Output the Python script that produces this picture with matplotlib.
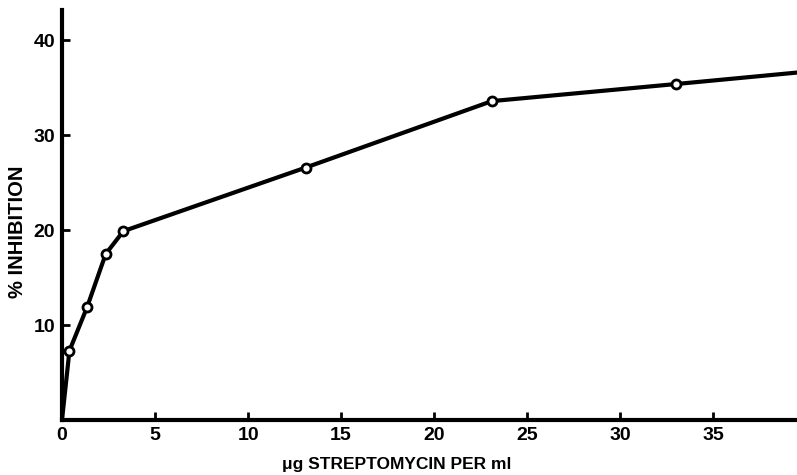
import matplotlib
matplotlib.use("Agg")
import matplotlib.pyplot as plt

# data
conc = [0, 0.4, 1.35, 2.35, 3.3, 13.1, 23.1, 33.0, 40.0]
inhibition = [0, 7.3, 11.9, 17.5, 19.9, 26.6, 33.6, 35.4, 36.7]
marked = [False, True, True, True, True, True, True, True, False]
xticks = [0, 5, 10, 15, 20, 25, 30, 35]
yticks = [10, 20, 30, 40]

plt.rcParams['font.family'] = ['Liberation Sans', 'DejaVu Sans']
plt.rcParams['font.weight'] = 'bold'

fig = plt.figure(figsize=(7.97, 4.75), dpi=100)
ax = fig.add_axes([62/797, 55/475, 735/797, 410/475])

ax.plot(conc, inhibition, color='black', lw=3, solid_joinstyle='round', zorder=3, clip_on=True)
mx = [c for c, m in zip(conc, marked) if m]
my = [v for v, m in zip(inhibition, marked) if m]
ax.plot(mx, my, 'o', ms=6.5, mfc='white', mec='black', mew=2, zorder=4)

ax.set_xlim(0, 39.5)
ax.set_ylim(0, 43.2)
ax.set_xticks(xticks)
ax.set_yticks(yticks)
ax.set_xticklabels([str(t) for t in xticks], fontsize=14, fontweight='bold')
ax.set_yticklabels([str(t) for t in yticks], fontsize=14, fontweight='bold')
ax.tick_params(direction='in', length=6, width=2, pad=5)
for s in ['top', 'right']:
    ax.spines[s].set_visible(False)
for s in ['left', 'bottom']:
    ax.spines[s].set_linewidth(3)

fig.text(397/797, 1 - 465/475, 'μg STREPTOMYCIN PER ml', ha='center', va='center',
         fontsize=12.5, fontweight='bold')
fig.text(18/797, 1 - 232/475, '% INHIBITION', ha='center', va='center', rotation=90,
         fontsize=14.5, fontweight='bold')

fig.savefig('out.png', dpi=100)
